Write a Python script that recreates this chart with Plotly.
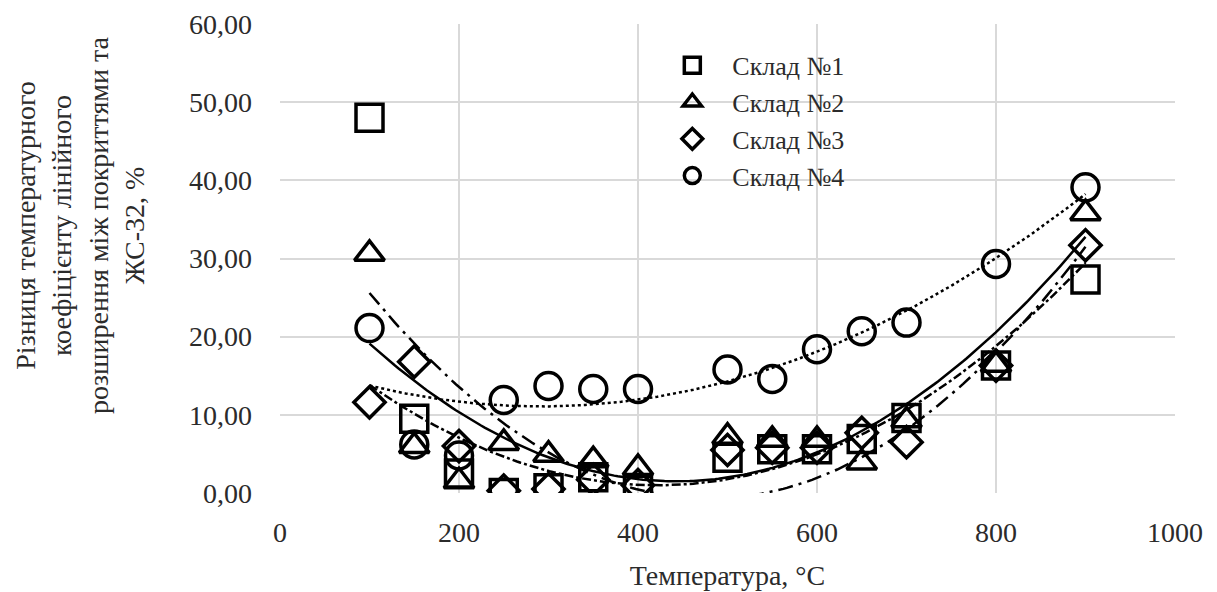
import numpy as np
import plotly.graph_objects as go

temps = [100, 150, 200, 250, 300, 350, 400, 500, 550, 600, 650, 700, 800, 900]
sklad1 = [48.0, 9.5, 2.5, 0.0, 0.6, 2.0, 0.4, 4.5, 5.6, 5.6, 6.9, 9.6, 16.3, 27.3]
sklad2 = [30.6, 6.0, 1.5, 6.4, 4.9, 4.2, 3.2, 7.2, 6.8, 6.8, 3.9, 9.3, 16.4, 35.8]
sklad3 = [11.6, 16.8, 6.0, 0.3, 0.5, 1.7, 1.0, 5.5, 5.8, 5.8, 7.7, 6.5, 16.3, 31.7]
sklad4 = [21.1, 6.2, 4.8, 11.9, 13.7, 13.3, 13.3, 15.8, 14.6, 18.4, 20.7, 21.8, 29.3, 39.1]

names = ["Склад №1", "Склад №2", "Склад №3", "Склад №4"]
series = [sklad1, sklad2, sklad3, sklad4]
symbols = ["square-open", "triangle-up-open", "diamond-open", "circle-open"]
sizes = [27, 26, 24, 27]
dashes = ["longdashdot", "solid", "dashdot", "dot"]

x_ticks = [0, 200, 400, 600, 800, 1000]
x_tick_labels = ["0", "200", "400", "600", "800", "1000"]
y_ticks = [0, 10, 20, 30, 40, 50, 60]

FONT = "Liberation Serif"
TXT = "#2b2b2b"
fig = go.Figure()

xs = np.linspace(min(temps), max(temps), 200)
for vals, dash in zip(series, dashes):
    c = np.polyfit(temps, vals, 2)
    fig.add_trace(go.Scatter(x=xs, y=np.polyval(c, xs), mode="lines",
                             line=dict(color="black", width=2.5, dash=dash),
                             showlegend=False, hoverinfo="skip"))

for name, vals, sym, sz in zip(names, series, symbols, sizes):
    fig.add_trace(go.Scatter(x=temps, y=vals, mode="markers", name=name,
                             marker=dict(symbol=sym, size=sz, color="black",
                                         line=dict(color="black", width=3.5))))

fig.update_layout(
    width=1217, height=592,
    paper_bgcolor="white", plot_bgcolor="white",
    margin=dict(l=272, r=50, t=16, b=107, autoexpand=False),
    font=dict(family=FONT, size=28, color=TXT),
    separators=", ",
    legend=dict(x=0.416, y=0.962, xanchor="left", yanchor="top",
                bgcolor="rgba(255,255,255,0)", font=dict(size=26, color=TXT),
                itemsizing="trace", itemwidth=70, tracegroupgap=0),
    xaxis=dict(range=[0, 1000], tickvals=x_ticks, ticktext=x_tick_labels,
               showgrid=True, gridcolor="#d9d9d9", gridwidth=1.5, automargin=False,
               zeroline=False, showline=False, ticks="", ticklabelstandoff=20,
               title=dict(text="Температура, °С", font=dict(size=28), standoff=18)),
    yaxis=dict(range=[0, 60], tickvals=y_ticks, tickformat=".2f",
               showgrid=True, gridcolor="#d9d9d9", gridwidth=1.5, automargin=False,
               zeroline=False, showline=False, ticks="", ticklabelstandoff=27),
    annotations=[dict(
        text="Різниця температурного<br>коефіцієнту лінійного<br>розширення між покриттями та<br>ЖС-32, %",
        xref="paper", yref="paper", x=(72 - 272) / 895, y=(485 - 217) / 469,
        xanchor="center", yanchor="middle", textangle=-90, showarrow=False,
        font=dict(size=28, color=TXT))],
)

fig.write_html("out.html")
